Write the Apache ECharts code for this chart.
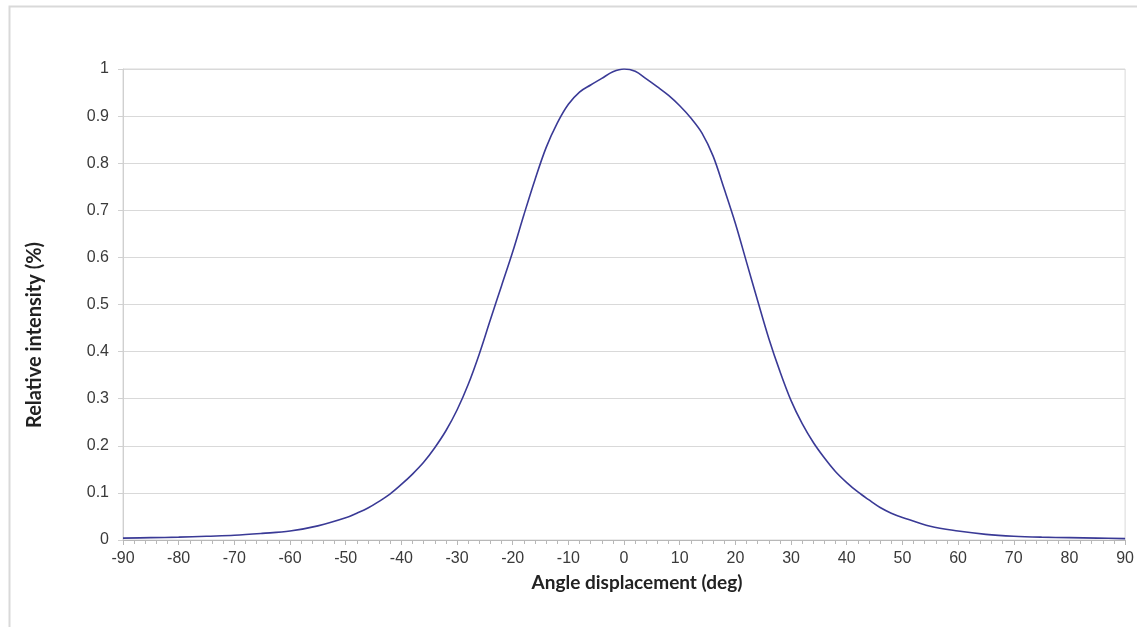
<!DOCTYPE html>
<html>
<head>
<meta charset="utf-8">
<script src="https://cdn.jsdelivr.net/npm/echarts@6/dist/echarts.min.js"></script>
<style>html,body{margin:0;padding:0;background:#fff;}#c{width:1137px;height:627px;}</style>
</head>
<body>
<div id="c"></div>
<script>
const angles = [-90,-85,-80,-75,-70,-65,-60,-55,-50,-48,-46,-44,-42,-40,-38,-36,-34,-32,-30,-28,-26,-24,-22,-20,-18,-16,-14,-12,-10,-8,-6,-4,-2,0,2,4,6,8,10,12,14,16,18,20,22,24,26,28,30,32,34,36,38,40,42,44,46,48,50,55,60,65,70,75,80,85,90];
const intensity = [0.004,0.005,0.006,0.008,0.010,0.014,0.019,0.030,0.047,0.057,0.068,0.082,0.098,0.118,0.140,0.165,0.196,0.232,0.276,0.330,0.395,0.468,0.540,0.612,0.690,0.765,0.833,0.885,0.925,0.951,0.966,0.980,0.994,1.0,0.995,0.979,0.962,0.944,0.922,0.896,0.864,0.815,0.745,0.672,0.590,0.508,0.428,0.358,0.296,0.247,0.207,0.174,0.145,0.122,0.102,0.085,0.069,0.057,0.048,0.029,0.019,0.012,0.008,0.006,0.005,0.004,0.003];
const xTitle = 'Angle displacement (deg)';
const yTitle = 'Relative intensity (%)';

const titleStyle = { fontFamily: 'Lato', fontWeight: 'bold', fontSize: 19, fill: '#222', align: 'center', verticalAlign: 'middle' };

const chart = echarts.init(document.getElementById('c'));
chart.setOption({
  animation: false,
  graphic: [{
    type: 'rect', left: 7, top: 4, silent: true,
    shape: { width: 1150, height: 640 },
    style: { fill: 'none', stroke: '#d9d9d9', lineWidth: 2 }
  }, {
    type: 'text', x: 35, y: 335, rotation: Math.PI / 2, silent: true,
    style: Object.assign({ text: yTitle, x: 0, y: 0 }, titleStyle, { fontSize: 20 })
  }, {
    type: 'text', x: 637, y: 583, silent: true,
    style: Object.assign({ text: xTitle, x: 0, y: 0 }, titleStyle)
  }],
  grid: { left: 123, right: 11, top: 69, bottom: 87, show: true, borderColor: '#d9d9d9', borderWidth: 1 },
  xAxis: {
    type: 'value', min: -90, max: 90, interval: 10,
    axisLine: { onZero: false, lineStyle: { color: '#b8b8b8' } },
    axisTick: { show: true, length: 5, lineStyle: { color: '#b8b8b8' } },
    minorTick: { show: true, splitNumber: 5, length: 4, lineStyle: { color: '#b8b8b8' } },
    splitLine: { show: false },
    axisLabel: { fontFamily: 'Liberation Sans', fontSize: 16, color: '#3a3a3a', margin: 11 }
  },
  yAxis: {
    type: 'value', min: 0, max: 1, interval: 0.1,
    axisLine: { show: true, onZero: false, lineStyle: { color: '#d0d0d0' } },
    axisTick: { show: true, length: 5, lineStyle: { color: '#d0d0d0' } },
    splitLine: { lineStyle: { color: '#d9d9d9' } },
    axisLabel: { fontFamily: 'Liberation Sans', fontSize: 16, color: '#3a3a3a', margin: 14,
      formatter: v => String(Math.round(v * 10) / 10) }
  },
  series: [{
    type: 'line', smooth: 0.35, showSymbol: false,
    data: angles.map((a, i) => [a, intensity[i]]),
    lineStyle: { color: '#3a3a96', width: 1.6 }
  }]
});
</script>
</body>
</html>
